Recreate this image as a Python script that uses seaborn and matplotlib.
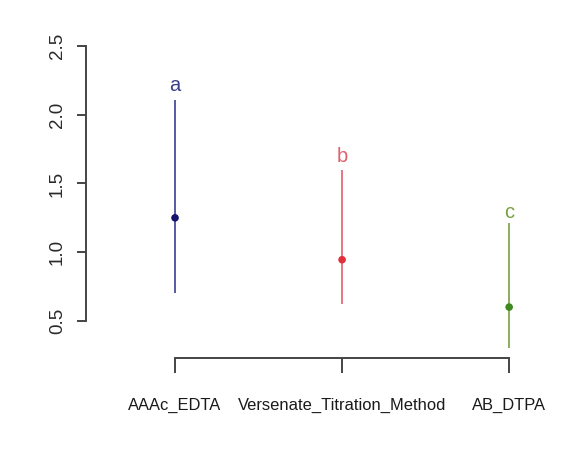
import numpy as np
import pandas as pd
import matplotlib
matplotlib.use('Agg')
from matplotlib import pyplot as plt
import seaborn as sns

# values
methods = ['AAAc_EDTA', 'Versenate_Titration_Method', 'AB_DTPA']
means = [1.25, 0.945, 0.60]
lower = [0.70, 0.62, 0.30]
upper = [2.11, 1.60, 1.21]
letters = ['a', 'b', 'c']
letter_y = [2.21, 1.70, 1.29]
line_colors = ['#3b3f90', '#e0606e', '#78a040']
point_colors = ['#14146e', '#e0303c', '#3e8a1e']
yticks = [0.5, 1.0, 1.5, 2.0, 2.5]

sns.set_theme(style='white')
plt.rcParams['font.family'] = ['Liberation Sans', 'DejaVu Sans']

df = pd.DataFrame({'method': methods, 'mean': means, 'lo': lower, 'hi': upper})
df['x'] = np.arange(len(df))

fig = plt.figure(figsize=(5.74, 4.63), dpi=100)
ax = fig.add_axes([0.1498, 0.227, 0.826, 0.708])

ax.vlines(df['x'], df['lo'], df['hi'], colors=line_colors, lw=1.2, zorder=1)
sns.scatterplot(data=df, x='x', y='mean', hue='method', palette=point_colors,
                s=30, edgecolor='none', legend=False, ax=ax, zorder=2)
for i, (lab, ly) in enumerate(zip(letters, letter_y)):
    ax.text(i, ly, lab, color=line_colors[i], ha='center', va='center', fontsize=14.5)

ax.set_xlim(-0.533, 2.305)
ax.set_ylim(0.23, 2.617)

# R-like axes
for s in ['top', 'right']:
    ax.spines[s].set_visible(False)
for s in ['left', 'bottom']:
    ax.spines[s].set_color('#444444')
    ax.spines[s].set_linewidth(1.4)
ax.spines['left'].set_bounds(0.5, 2.5)
ax.spines['bottom'].set_bounds(0, 2)

ax.set_yticks(yticks)
ax.set_yticklabels([f'{v:.1f}' for v in yticks], rotation=90, va='center', fontsize=13.5, color='#2a2a2a')
ax.set_xticks(df['x'])
ax.set_xticklabels(methods, fontsize=11.9, color='#1a1a1a')
ax.tick_params(axis='y', direction='out', length=6.5, width=1.4, color='#444444', pad=8, left=True)
ax.tick_params(axis='x', direction='out', length=11, width=1.4, color='#444444', pad=18, bottom=True)
ax.set_xlabel('')
ax.set_ylabel('')

fig.savefig('out.png', dpi=100)
